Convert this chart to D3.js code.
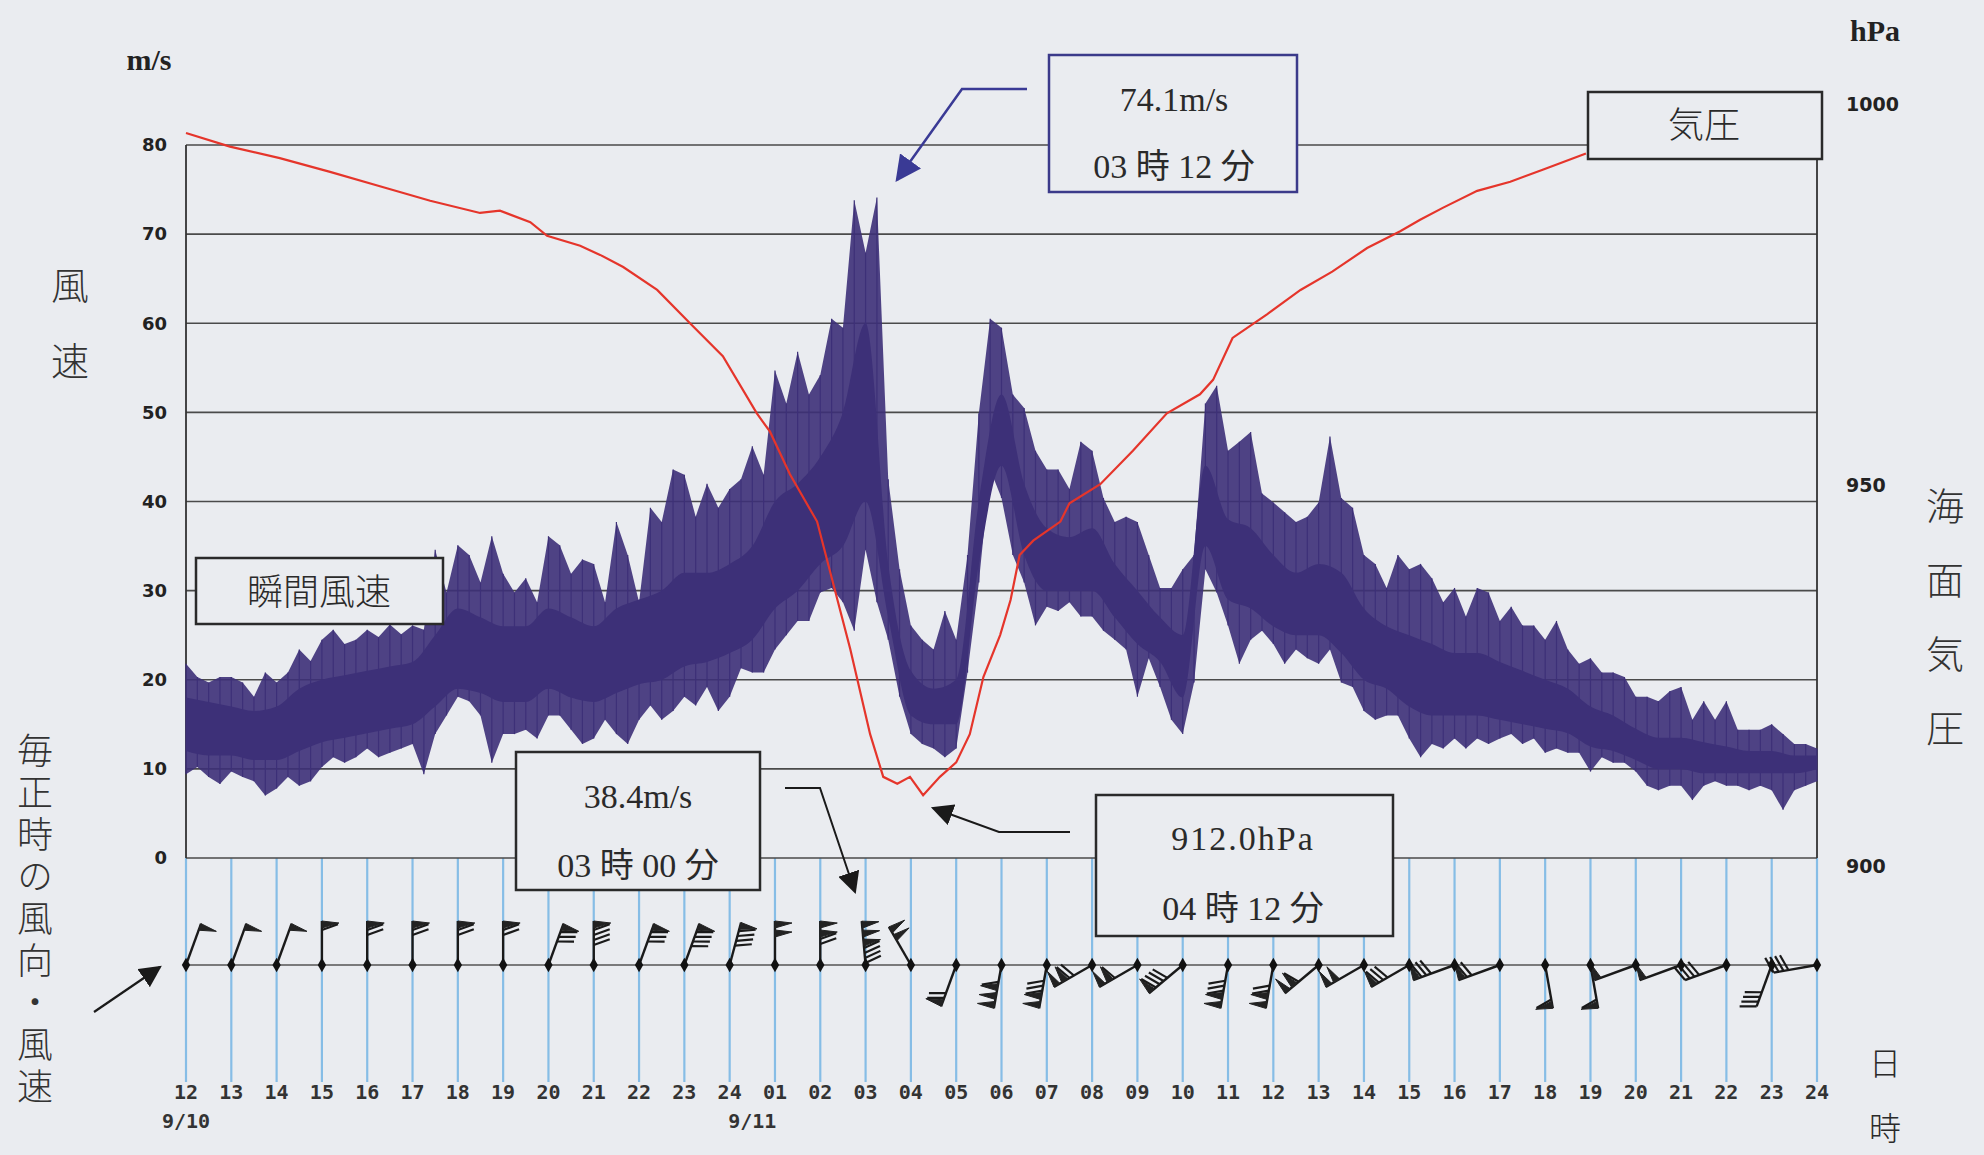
<!DOCTYPE html>
<html>
<head>
<meta charset="utf-8">
<script src="https://cdn.jsdelivr.net/npm/d3@7"></script>
<style>
  body { margin: 0; background: #eaecf0; }
  svg { display: block; }
</style>
</head>
<body>
<div id="chart"></div>
<script>
// hour labels along the bottom (12:00 on 9/10 .. 24:00 on 9/11)
const hourLabels = ["12","13","14","15","16","17","18","19","20","21","22","23","24",
  "01","02","03","04","05","06","07","08","09","10","11","12","13","14","15","16","17","18","19","20","21","22","23","24"];
const dateLabels = [{t: 0, text: "9/10"}, {t: 12.5, text: "9/11"}];

// instantaneous wind (m/s), read every 15 minutes: spike top / spike bottom
const windStep = 0.25;
const windHi = [
  21.8,20.3,19.7,20.3, 20.3,19.7,18.1,20.8, 19.7,20.8,23.4,22.1, 24.5,25.6,24.0,24.5,
  25.6,24.8,26.2,25.1, 26.1,25.6,34.6,29.8, 35.1,34.0,30.9,36.1, 31.9,29.8,31.4,28.7,
  36.1,35.1,31.9,33.5, 33.0,28.7,37.7,34.0, 28.7,39.3,37.7,43.6, 43.0,38.3,42.0,39.3,
  41.4,42.5,46.2,43.0, 54.7,51.0,56.8,52.0, 54.2,60.5,59.5,73.8, 67.9,74.1,42.5,32.4,
  26.1,24.5,23.4,27.7, 24.5,34.0,49.9,60.5, 59.5,52.0,50.5,45.7, 43.6,43.6,41.4,46.7,
  45.7,40.4,37.7,38.3, 37.7,34.0,30.3,30.3, 32.4,34.0,51.0,53.0, 45.7,46.7,47.8,40.9,
  39.9,38.8,37.7,38.3, 39.9,47.3,40.4,39.3, 34.0,33.0,30.3,34.0, 32.4,33.0,31.4,28.7,
  30.3,27.1,30.3,29.8, 26.6,28.2,26.1,26.1, 24.5,26.6,23.4,21.8, 22.4,20.8,20.8,20.3,
  18.1,18.1,17.6,18.7, 19.2,15.5,17.6,15.5, 17.6,14.4,14.4,14.4, 15.0,13.9,12.8,12.8,
  12.3];
const windLo = [
  9.4,10.2,9.1,8.3, 9.7,9.1,8.6,7.0, 7.8,9.1,8.1,8.6, 10.2,11.3,10.7,11.3,
  12.3,11.3,11.8,12.3, 12.8,9.4,13.9,16.0, 18.1,17.6,16.0,10.7, 13.9,13.9,14.4,13.4,
  16.0,16.0,14.4,12.8, 13.4,15.5,13.9,12.8, 15.5,17.1,15.5,16.5, 18.1,17.1,19.2,16.5,
  18.1,21.3,20.8,20.8, 23.4,25.0,26.6,26.6, 29.8,30.3,28.7,25.5, 34.6,28.7,24.5,18.1,
  13.9,12.8,12.3,11.3, 12.3,20.8,30.9,43.6, 40.4,34.0,30.9,26.1, 28.2,27.7,28.7,27.1,
  27.1,25.5,24.5,23.4, 18.1,22.4,19.2,15.5, 13.9,19.7,32.4,29.8, 26.1,21.8,24.5,25.5,
  24.0,21.8,23.4,22.4, 21.8,23.4,19.7,19.2, 16.5,15.5,16.0,16.0, 13.4,11.3,12.8,12.3,
  13.4,12.3,13.4,12.8, 13.4,13.9,12.8,13.4, 11.8,12.3,11.8,11.8, 9.7,11.3,10.7,10.7,
  9.7,8.1,7.6,8.1, 8.1,6.5,8.1,8.6, 8.1,8.1,7.6,8.1, 7.6,5.4,7.6,8.1,
  8.6];

// dense core of the trace, read every 30 minutes
const coreStep = 0.5;
const coreTop = [18,17.5,17,16.5,17,19,20,20.5,21,21.5,22,25,28,27,26,26,28,27,26,28,29,30,32,32,
  33,35,40,42,45,50,60,33,21,19,20,40,52,42,37,36,37,33,30,27,25,44,38,37,34,32,33,32,28,26,
  25,24,23,23,22,21,20,19,17,16,14.5,13.5,13.5,13,12.5,12,12,11.5,11.5];
const coreBot = [12,11.5,11.5,11,11,12,13,13.5,14,14.5,15,17,19,18.5,17.5,17.5,19,18,17.5,18.5,19.5,20,21.5,22,
  23,24.5,28,30,33,35,40,27,16,15,15,33,44,34,30,30,30,27,24,22,18,35,29,28,26,25,25,23,20,19,
  17,16,16,16,15.5,15,14.5,14,12.5,12,11,10,10,9.5,9.5,9.5,9.5,9.5,10];

// sea level pressure (hPa)
const presT = [0,0.97,2.07,3.18,4.28,5.39,6.49,6.93,7.6,7.97,8.7,9.14,9.65,10.4,11.13,11.85,12.6,12.89,
  13.33,13.93,14.2,14.66,15.1,15.39,15.7,15.98,16.27,16.64,17.0,17.3,17.6,17.97,18.2,18.4,18.7,19.3,
  19.5,20.18,20.9,21.65,22.38,22.67,23.1,23.86,24.6,25.3,26.07,26.8,27.24,27.75,28.5,29.23,29.96,30.9];
const presHpa = [996.2,994.4,992.9,991.1,989.2,987.3,985.7,986.0,984.5,982.7,981.4,980.2,978.6,975.6,971.2,966.9,959.4,957.0,
  951.4,945.2,939.0,928.5,917.3,911.7,910.8,911.7,909.3,911.7,913.6,917.3,924.8,930.3,934.9,940.8,942.7,945.2,
  947.6,950.1,954.5,959.4,961.9,963.8,969.3,972.4,975.6,978.0,981.1,983.3,984.8,986.4,988.6,989.8,991.4,993.5];

// hourly wind direction (deg, from) and speed (m/s)
const barbDir = [20,20,20,0,0,0,0,0,20,0,20,20,15,0,0,355,330,200,190,190,240,240,230,190,190,230,240,240,250,250,170,170,250,250,250,200,260];
const barbSpd = [11,11,11,13,14,14,15,15,17,18,17,18,19,21,24,38.4,20,14,33,27,25,22,18,26,24,23,20,17,16,15,13,12,11,10,9,8,8];

const windTicks = [0,10,20,30,40,50,60,70,80];
const presTicks = [900,950,1000];

var W = 1984, H = 1155;
var plot = {left: 186, right: 1817, top: 145, bottom: 858};
var bg = "#eaecf0";
var windColor = "#3d3078";
var presColor = "#e5352b";
var jp = "'Noto Sans CJK JP', sans-serif";
var serif = "'Liberation Serif', 'Noto Sans CJK JP', serif";

var svg = d3.select("#chart").append("svg")
  .attr("width", W).attr("height", H);
svg.append("rect").attr("width", W).attr("height", H).attr("fill", bg);

var x = d3.scaleLinear().domain([0, 36]).range([plot.left, plot.right]);
var yW = d3.scaleLinear().domain([0, 80]).range([plot.bottom, plot.top]);
var yP = d3.scaleLinear().domain([900, 1000]).range([866, 104]);

// hourly blue lines below the plot
var barbY = 965;
svg.append("g").selectAll("line").data(hourLabels).enter().append("line")
  .attr("x1", (d, i) => x(i)).attr("x2", (d, i) => x(i))
  .attr("y1", plot.bottom).attr("y2", 1082)
  .attr("stroke", "#86bde6").attr("stroke-width", 2.2);

// horizontal grid
svg.append("g").selectAll("line").data(windTicks).enter().append("line")
  .attr("x1", plot.left).attr("x2", plot.right)
  .attr("y1", d => yW(d)).attr("y2", d => yW(d))
  .attr("stroke", "#4a4a4a").attr("stroke-width", 1.6);
svg.append("line").attr("x1", plot.left).attr("x2", plot.left)
  .attr("y1", plot.top).attr("y2", plot.bottom).attr("stroke", "#333").attr("stroke-width", 1.8);
svg.append("line").attr("x1", plot.right).attr("x2", plot.right)
  .attr("y1", plot.top).attr("y2", plot.bottom).attr("stroke", "#333").attr("stroke-width", 1.8);

// wind speed trace
var envelope = windHi.map((h, i) => ({t: i * windStep, hi: h, lo: windLo[i]}));
svg.append("path").datum(envelope)
  .attr("fill", windColor).attr("fill-opacity", 0.9)
  .attr("d", d3.area().x(d => x(d.t)).y0(d => yW(d.lo)).y1(d => yW(d.hi)));
svg.append("g").selectAll("line").data(envelope).enter().append("line")
  .attr("x1", d => x(d.t)).attr("x2", d => x(d.t))
  .attr("y1", d => yW(d.lo)).attr("y2", d => yW(d.hi))
  .attr("stroke", windColor).attr("stroke-width", 1.2);
var core = coreTop.map((v, i) => ({t: i * coreStep, top: v, bot: coreBot[i]}));
svg.append("path").datum(core)
  .attr("fill", windColor)
  .attr("d", d3.area().curve(d3.curveMonotoneX).x(d => x(d.t)).y0(d => yW(d.bot)).y1(d => yW(d.top)));

// pressure line
var pres = presT.map((t, i) => ({t: t, p: presHpa[i]}));
svg.append("path").datum(pres)
  .attr("fill", "none").attr("stroke", presColor).attr("stroke-width", 2.2)
  .attr("d", d3.line().x(d => x(d.t)).y(d => yP(d.p)));

// left axis labels
svg.append("g").selectAll("text").data(windTicks).enter().append("text")
  .attr("x", 167).attr("y", d => yW(d)).attr("dy", "0.35em")
  .attr("text-anchor", "end").attr("font-family", "'DejaVu Sans', sans-serif")
  .attr("font-weight", "bold").attr("font-size", 18).attr("fill", "#222")
  .text(d => d);
// right axis labels
svg.append("g").selectAll("text").data(presTicks).enter().append("text")
  .attr("x", 1846).attr("y", d => yP(d)).attr("dy", "0.35em")
  .attr("font-family", "'DejaVu Sans', sans-serif")
  .attr("font-weight", "bold").attr("font-size", 19).attr("fill", "#222")
  .text(d => d);

// bottom hour labels
svg.append("g").selectAll("text").data(hourLabels).enter().append("text")
  .attr("x", (d, i) => x(i)).attr("y", 1099)
  .attr("text-anchor", "middle").attr("font-family", "'DejaVu Sans Mono', monospace")
  .attr("font-weight", "bold").attr("font-size", 20).attr("fill", "#333")
  .text(d => d);
svg.append("g").selectAll("text").data(dateLabels).enter().append("text")
  .attr("x", d => x(d.t)).attr("y", 1128)
  .attr("text-anchor", "middle").attr("font-family", "'DejaVu Sans Mono', monospace")
  .attr("font-weight", "bold").attr("font-size", 20).attr("fill", "#333")
  .text(d => d.text);

// wind barbs
svg.append("line").attr("x1", plot.left).attr("x2", plot.right)
  .attr("y1", barbY).attr("y2", barbY).attr("stroke", "#555").attr("stroke-width", 1.5);

function drawBarb(g, cx, cy, dir, spd) {
  var L = 44, F = 17, gap = 5, pw = 7;
  var r = dir * Math.PI / 180, r2 = (dir + 90) * Math.PI / 180;
  var ux = Math.sin(r), uy = -Math.cos(r);
  var px = Math.sin(r2), py = -Math.cos(r2);
  var ex = cx + ux * L, ey = cy + uy * L;
  g.append("line").attr("x1", cx).attr("y1", cy).attr("x2", ex).attr("y2", ey)
    .attr("stroke", "#1a1a1a").attr("stroke-width", 2.4);
  var n10 = Math.floor(spd / 10);
  var n2 = Math.floor((spd - n10 * 10) / 2);
  var pos = 0;
  for (var k = 0; k < n10; k++) {
    var ax = ex - ux * pos, ay = ey - uy * pos;
    var bx = ex - ux * (pos + pw), by = ey - uy * (pos + pw);
    var tx = ax + px * F - ux * 2, ty = ay + py * F - uy * 2;
    g.append("path").attr("d", "M" + ax + "," + ay + "L" + tx + "," + ty + "L" + bx + "," + by + "Z")
      .attr("fill", "#222").attr("stroke", "#222").attr("stroke-width", 1);
    pos += pw + 2;
  }
  for (var j = 0; j < n2; j++) {
    var sx = ex - ux * pos, sy = ey - uy * pos;
    g.append("line").attr("x1", sx).attr("y1", sy)
      .attr("x2", sx + px * F * 0.94 + ux * F * 0.34).attr("y2", sy + py * F * 0.94 + uy * F * 0.34)
      .attr("stroke", "#1a1a1a").attr("stroke-width", 2.2);
    pos += gap;
  }
}
var barbs = svg.append("g");
barbDir.forEach(function(dir, i) {
  drawBarb(barbs, x(i), barbY, dir, barbSpd[i]);
});
barbs.selectAll("path.dot").data(barbDir).enter().append("path").attr("class", "dot")
  .attr("transform", (d, i) => "translate(" + x(i) + "," + barbY + ")")
  .attr("d", d3.symbol().type(d3.symbolDiamond).size(60))
  .attr("fill", "#111");

// arrow heads
var defs = svg.append("defs");
function marker(id, color, size) {
  defs.append("marker").attr("id", id).attr("viewBox", "0 0 10 10")
    .attr("refX", 9).attr("refY", 5).attr("markerUnits", "userSpaceOnUse")
    .attr("markerWidth", size).attr("markerHeight", size).attr("orient", "auto")
    .append("path").attr("d", "M0,0L10,5L0,10Z").attr("fill", color);
}
marker("ah-blue", "#3a3a95", 26);
marker("ah-black", "#1a1a1a", 22);

function callout(pts, color, width, mk) {
  svg.append("path").attr("d", d3.line()(pts)).attr("fill", "none")
    .attr("stroke", color).attr("stroke-width", width).attr("marker-end", "url(#" + mk + ")");
}
function box(x0, y0, x1, y1, color) {
  svg.append("rect").attr("x", x0).attr("y", y0).attr("width", x1 - x0).attr("height", y1 - y0)
    .attr("fill", bg).attr("stroke", color).attr("stroke-width", 2.5);
}
function label(txt, cx, cy, size, family, extra) {
  var t = svg.append("text").attr("x", cx).attr("y", cy).attr("dy", "0.36em")
    .attr("text-anchor", "middle").attr("font-family", family).attr("font-size", size)
    .attr("fill", "#2a2a2a").text(txt);
  if (extra) t.attr("letter-spacing", extra);
  return t;
}

// 74.1 m/s callout
callout([[1027, 89], [962, 89], [897, 180]], "#3a3a95", 2.5, "ah-blue");
box(1049, 55, 1297, 192, "#3b3a8a");
label("74.1m/s", 1174, 99, 34, serif);
label("03 時 12 分", 1174, 166, 34, serif);

// pressure legend
box(1588, 92, 1822, 159, "#2a2a2a");
label("気圧", 1704, 125, 36, jp).attr("font-weight", 300);

// gust legend
box(196, 558, 443, 624, "#2a2a2a");
label("瞬間風速", 319, 592, 36, jp).attr("font-weight", 300);

// 38.4 m/s callout
callout([[785, 788], [820, 788], [855, 892]], "#1a1a1a", 2, "ah-black");
box(516, 752, 760, 890, "#2a2a2a");
label("38.4m/s", 638, 796, 34, serif);
label("03 時 00 分", 638, 865, 34, serif);

// 912 hPa callout
callout([[1070, 832], [999, 832], [933, 808]], "#1a1a1a", 2, "ah-black");
box(1096, 795, 1393, 936, "#2a2a2a");
label("912.0hPa", 1243, 838, 34, serif, 2);
label("04 時 12 分", 1243, 908, 34, serif);

// units
svg.append("text").attr("x", 149).attr("y", 70).attr("text-anchor", "middle")
  .attr("font-family", serif).attr("font-weight", "bold").attr("font-size", 30).attr("fill", "#222").text("m/s");
svg.append("text").attr("x", 1875).attr("y", 41).attr("text-anchor", "middle")
  .attr("font-family", serif).attr("font-weight", "bold").attr("font-size", 30).attr("fill", "#222").text("hPa");

// vertical titles
function vtext(txt, cx, top, size, spacing) {
  svg.append("text").attr("x", cx).attr("y", top)
    .attr("font-family", jp).attr("font-weight", 300).attr("font-size", size)
    .attr("fill", "#333").attr("letter-spacing", spacing)
    .style("writing-mode", "vertical-rl").style("text-orientation", "upright")
    .text(txt);
}
vtext("風速", 70, 266, 38, 38);
vtext("毎正時の風向・風速", 35, 732, 36, 6);
vtext("海面気圧", 1945, 487, 38, 36);
label("日", 1885, 1063, 32, jp).attr("font-weight", 300);
label("時", 1885, 1128, 32, jp).attr("font-weight", 300);

// pointer to the barb row
svg.append("line").attr("x1", 94).attr("y1", 1012).attr("x2", 160).attr("y2", 967)
  .attr("stroke", "#1a1a1a").attr("stroke-width", 2.2).attr("marker-end", "url(#ah-black)");
</script>
</body>
</html>
